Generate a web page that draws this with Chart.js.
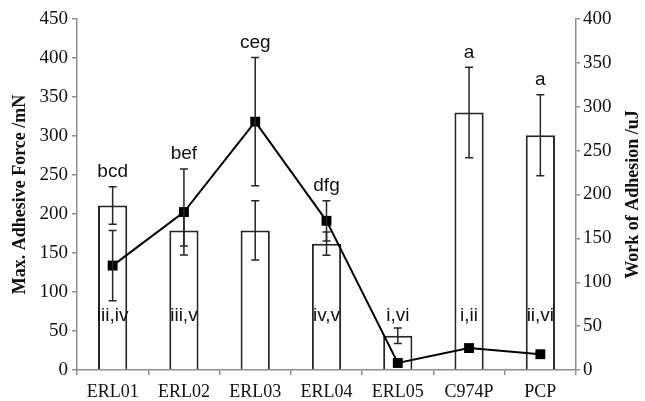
<!DOCTYPE html>
<html>
<head>
<meta charset="utf-8">
<script src="https://cdn.jsdelivr.net/npm/chart.js@4"></script>
<style>
    html, body { margin: 0; padding: 0; background: #fff; }
    #wrap { width: 645px; height: 401px; }
</style>
</head>
<body>
<div id="wrap"><canvas id="adhesionChart"></canvas></div>
<script>
const categories = ['ERL01', 'ERL02', 'ERL03', 'ERL04', 'ERL05', 'C974P', 'PCP']
const forceValues = [211, 179, 179, 162, 44, 330, 301]
const forceErrors = [24, 20, 38, 15, 10, 58, 52]
const workValues = [119, 180, 283, 170, 8, 25, 18]
const workErrors = [40, 49, 73, 23, 0, 0, 0]
const letterLabels = ['bcd', 'bef', 'ceg', 'dfg', '', 'a', 'a']
const numeralLabels = ['iii,iv', 'iii,v', '', 'iv,v', 'i,vi', 'i,ii', 'ii,vi']
const numeralLevel = 70
const leftTicks = [0, 50, 100, 150, 200, 250, 300, 350, 400, 450]
const rightTicks = [0, 50, 100, 150, 200, 250, 300, 350, 400]

const axisGray = '#8e8e8e'
const ink = '#262626'
const serif = '"Liberation Serif", "Times New Roman", serif'
const sans = '"Liberation Sans", Arial, sans-serif'

function drawErrorBars(ctx, xScale, yScale, values, errors) {
    ctx.save()
    ctx.strokeStyle = ink
    ctx.lineWidth = 1.5
    values.forEach((value, i) => {
        const err = errors[i]
        if (!err) return
        const x = xScale.getPixelForValue(i)
        const top = yScale.getPixelForValue(value + err)
        const bottom = yScale.getPixelForValue(value - err)
        ctx.beginPath()
        ctx.moveTo(x, top)
        ctx.lineTo(x, bottom)
        ctx.moveTo(x - 4, top)
        ctx.lineTo(x + 4, top)
        ctx.moveTo(x - 4, bottom)
        ctx.lineTo(x + 4, bottom)
        ctx.stroke()
    })
    ctx.restore()
}

const errorBarPlugin = {
    id: 'errorBars',
    afterDatasetDraw(chart, args) {
        const { ctx, scales } = chart
        if (args.meta.type === 'bar') {
            drawErrorBars(ctx, scales.x, scales.y, forceValues, forceErrors)
        } else {
            drawErrorBars(ctx, scales.x, scales.y1, workValues, workErrors)
        }
    },
    afterDraw(chart) {
        const { ctx, scales, chartArea } = chart
        ctx.save()
        ctx.fillStyle = '#111'
        ctx.font = '19px ' + sans
        ctx.textAlign = 'center'
        ctx.textBaseline = 'middle'
        categories.forEach((_, i) => {
            const x = scales.x.getPixelForValue(i)
            const barTop = scales.y.getPixelForValue(forceValues[i] + forceErrors[i])
            const lineTop = scales.y1.getPixelForValue(workValues[i] + workErrors[i])
            const top = Math.min(barTop, lineTop)
            if (letterLabels[i]) ctx.fillText(letterLabels[i], x, top - 15)
            if (numeralLabels[i]) ctx.fillText(numeralLabels[i], x, scales.y.getPixelForValue(numeralLevel))
        })

        // axis titles
        const midY = (chartArea.top + chartArea.bottom) / 2
        ctx.font = 'bold 18px ' + serif
        ctx.translate(20, midY)
        ctx.rotate(-Math.PI / 2)
        ctx.fillText('Max. Adhesive Force /mN', 0, 0)
        ctx.restore()

        ctx.save()
        ctx.fillStyle = '#111'
        ctx.font = 'bold 18px ' + serif
        ctx.textAlign = 'center'
        ctx.textBaseline = 'middle'
        ctx.translate(633, midY)
        ctx.rotate(-Math.PI / 2)
        ctx.fillText('Work of Adhesion /uJ', 0, 0)
        ctx.restore()
    },
}

new Chart(document.getElementById('adhesionChart'), {
    type: 'bar',
    data: {
        labels: categories,
        datasets: [
            {
                type: 'line',
                label: 'Work of Adhesion',
                data: workValues,
                yAxisID: 'y1',
                borderColor: '#000',
                borderWidth: 2,
                backgroundColor: '#000',
                pointStyle: 'rect',
                pointRadius: 7,
                pointBorderWidth: 0,
                tension: 0,
                order: 0,
            },
            {
                type: 'bar',
                label: 'Max. Adhesive Force',
                data: forceValues,
                yAxisID: 'y',
                backgroundColor: '#fff',
                borderColor: ink,
                borderWidth: 2,
                barPercentage: 0.41,
                categoryPercentage: 1,
                order: 1,
            },
        ],
    },
    options: {
        responsive: true,
        maintainAspectRatio: false,
        animation: false,
        layout: { padding: { top: 19, left: 0, right: 0, bottom: 0 } },
        plugins: {
            legend: { display: false },
            tooltip: { enabled: false },
        },
        scales: {
            x: {
                grid: {
                    offset: true,
                    drawOnChartArea: false,
                    drawTicks: true,
                    tickLength: 5,
                    color: axisGray,
                    lineWidth: 1.5,
                },
                border: { color: axisGray, width: 1.5 },
                ticks: {
                    color: '#111',
                    font: { family: serif, size: 18 },
                    padding: 6,
                },
                afterFit: scale => { scale.height = 31 },
            },
            y: {
                position: 'left',
                min: 0,
                max: 450,
                afterBuildTicks: scale => { scale.ticks = leftTicks.map(value => ({ value })) },
                grid: {
                    drawOnChartArea: false,
                    tickLength: 5,
                    color: axisGray,
                    lineWidth: 1.5,
                },
                border: { color: axisGray, width: 1.5 },
                ticks: {
                    color: '#111',
                    font: { family: serif, size: 19 },
                    padding: 4,
                },
                afterFit: scale => { scale.width = 77 },
            },
            y1: {
                position: 'right',
                min: 0,
                max: 400,
                afterBuildTicks: scale => { scale.ticks = rightTicks.map(value => ({ value })) },
                grid: {
                    drawOnChartArea: false,
                    tickLength: 4,
                    color: axisGray,
                    lineWidth: 1.5,
                },
                border: { color: axisGray, width: 1.5 },
                ticks: {
                    color: '#111',
                    font: { family: serif, size: 19 },
                    padding: 3,
                },
                afterFit: scale => { scale.width = 69 },
            },
        },
    },
    plugins: [errorBarPlugin],
})
</script>
</body>
</html>
